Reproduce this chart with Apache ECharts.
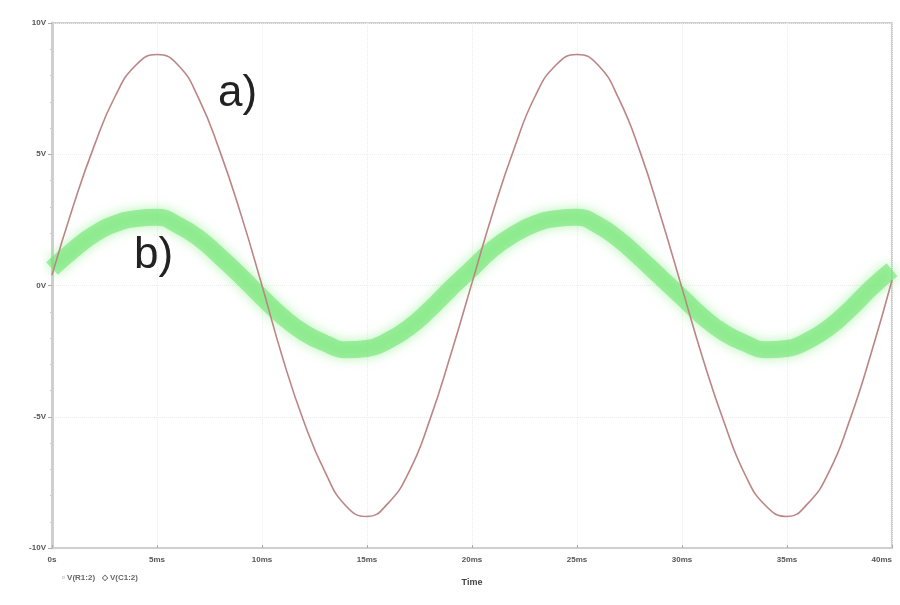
<!DOCTYPE html>
<html>
<head>
<meta charset="utf-8">
<script src="https://cdn.jsdelivr.net/npm/echarts@6/dist/echarts.min.js"></script>
<style>
html,body{margin:0;padding:0;background:#fff;}
#chart{width:900px;height:605px;}
</style>
</head>
<body>
<div id="chart"></div>
<script>
// time in ms
const timeMs = [0,1,2,3,4,5,6,7,8,9,10,11,12,13,14,15,16,17,18,19,20,21,22,23,24,25,26,27,28,29,30,31,32,33,34,35,36,37,38,39,40];
// a) input voltage (V)
const seriesA = [0.4,3.0,5.3,7.2,8.4,8.8,8.4,7.1,5.1,2.7,0.0,-2.8,-5.2,-7.1,-8.4,-8.8,-8.3,-7.1,-5.1,-2.6,0.1,2.8,5.2,7.2,8.4,8.8,8.4,7.1,5.1,2.6,-0.1,-2.8,-5.2,-7.2,-8.4,-8.8,-8.3,-7.1,-5.1,-2.6,0.2];
// b) output voltage (V), noisy band
const seriesB = [0.65,1.35,1.95,2.35,2.55,2.6,2.3,1.8,1.1,0.35,-0.45,-1.2,-1.8,-2.2,-2.45,-2.4,-2.1,-1.6,-0.9,-0.1,0.65,1.4,1.95,2.35,2.55,2.6,2.3,1.75,1.05,0.3,-0.45,-1.2,-1.8,-2.2,-2.45,-2.4,-2.1,-1.6,-0.9,-0.1,0.6];
const xTickLabels = ['0s','5ms','10ms','15ms','20ms','25ms','30ms','35ms','40ms'];
const yTickLabels = ['-10V','-5V','0V','5V','10V'];
const legendNames = ['V(R1:2)','V(C1:2)'];
const curveLabels = ['a)','b)'];

const chart = echarts.init(document.getElementById('chart'));
const dataA = timeMs.map((t,i)=>[t,seriesA[i]]);
const dataB = timeMs.map((t,i)=>[t,seriesB[i]]);

chart.setOption({
  animation:false,
  backgroundColor:'#fff',
  grid:{left:52,right:8,top:23,bottom:57,show:true,borderColor:'#cfcfcf',borderWidth:2,outerBoundsMode:'none',containLabel:false},
  xAxis:{
    type:'value',min:0,max:40,interval:5,
    name:'Time',nameLocation:'middle',nameGap:30,
    nameTextStyle:{fontSize:9,color:'#444',fontWeight:'bold',fontFamily:'Liberation Sans'},
    axisLine:{show:true,onZero:false,lineStyle:{color:'#cfcfcf',width:2}},
    axisTick:{show:true,length:3,inside:true,lineStyle:{color:'#aaa'}},
    axisLabel:{fontSize:8,color:'#555',fontWeight:'bold',margin:8,fontFamily:'Liberation Sans',
      alignMaxLabel:'right',
      formatter:v=>xTickLabels[Math.round(v/5)]},
    splitLine:{show:true,lineStyle:{color:'#eeeeee',type:'dotted'}}
  },
  yAxis:{
    type:'value',min:-10,max:10,interval:5,
    axisLine:{show:true,onZero:false,lineStyle:{color:'#cfcfcf',width:3}},
    axisTick:{show:true,length:4,lineStyle:{color:'#aaa'}},
    minorTick:{show:true,splitNumber:5,length:2,lineStyle:{color:'#ccc'}},
    axisLabel:{fontSize:8,color:'#555',fontWeight:'bold',margin:6,fontFamily:'Liberation Sans',
      formatter:v=>yTickLabels[Math.round((v+10)/5)]},
    splitLine:{show:true,lineStyle:{color:'#ececec',type:'dotted'}}
  },
  series:[
    {name:legendNames[1],type:'line',data:dataB,smooth:true,showSymbol:false,z:2,
      lineStyle:{width:17,color:'rgba(110,228,110,0.6)',shadowBlur:12,shadowColor:'rgba(120,235,120,0.9)'}},
    {name:legendNames[0],type:'line',data:dataA,smooth:true,showSymbol:false,z:3,
      lineStyle:{width:1.6,color:'#bb8585'}}
  ],
  graphic:[
    {type:'text',left:218,top:72,style:{text:curveLabels[0],font:'44px "Liberation Sans"',fill:'#222'}},
    {type:'text',left:134,top:234,style:{text:curveLabels[1],font:'44px "Liberation Sans"',fill:'#222'}},
    {type:'text',left:62,top:574,style:{text:'\u25AB '+legendNames[0]+'   \u25C7 '+legendNames[1],font:'bold 8px "Liberation Sans"',fill:'#666'}}
  ]
});
</script>
</body>
</html>
